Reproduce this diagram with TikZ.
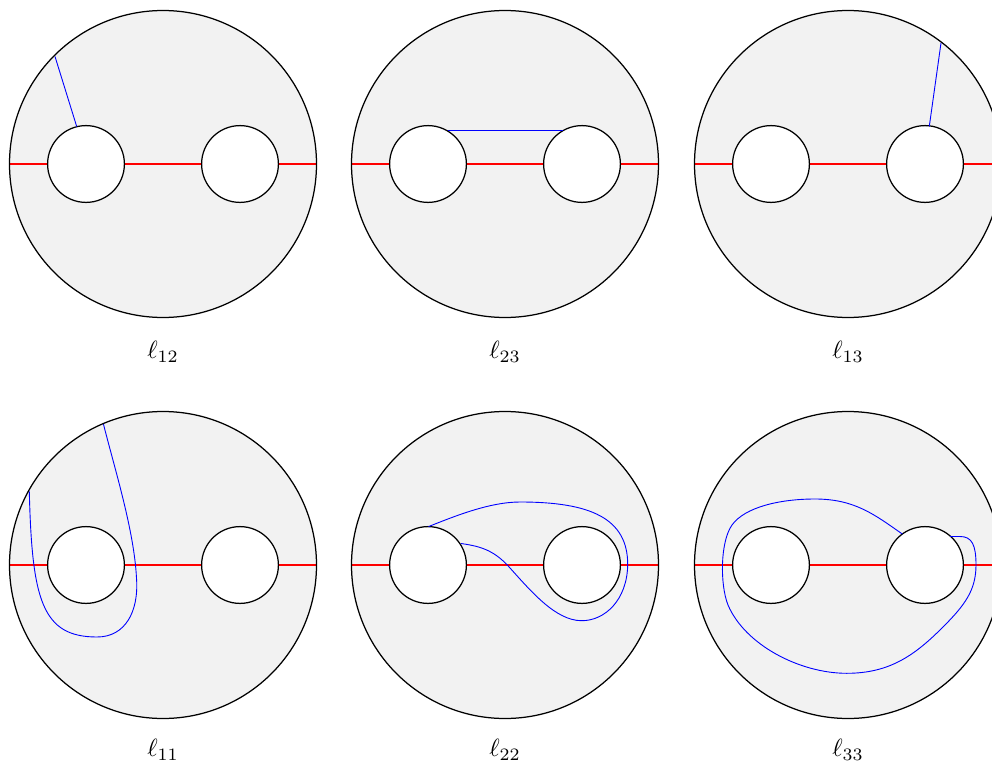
\documentclass[tikz,border=0pt]{standalone}
\usetikzlibrary{calc}
\definecolor{diskgray}{gray}{0.95}
\tikzset{
  diskfill/.style={fill=diskgray},
  diskline/.style={draw=black, line width=1.25bp},
  holeshape/.style={draw=black, fill=white, line width=1.25bp},
  cutline/.style={red, line width=1.3bp},
  bluecurve/.style={blue, line width=0.9bp},
  lab/.style={scale=2.5, inner sep=0pt}
}
\newcommand{\mydisk}[2]{%
  \fill[diskfill] (#1,#2) circle[radius=153.5];
  \draw[cutline] (#1-153.5,#2) -- (#1+153.5,#2);
  \draw[holeshape] (#1-77,#2) circle[radius=38.4];
  \draw[holeshape] (#1+77,#2) circle[radius=38.4];
}
\begin{document}
\begin{tikzpicture}[x=1bp,y=-1bp]
\useasboundingbox (0,0) rectangle (992,764);
\clip (0,0) rectangle (992,764);
% top row
\mydisk{163}{164}
\mydisk{505}{164}
\mydisk{848}{164}
% bottom row
\mydisk{163}{565}
\mydisk{505}{565}
\mydisk{848}{565}
% blue curves
\draw[bluecurve] (55,56.5) -- (76.7,126.5);
\draw[bluecurve] (447.5,130.5) -- (563,130.5);
\draw[bluecurve] (941,43) -- (929.3,126.3);
% l11
\draw[bluecurve] (29.3,491.5) .. controls (32,600) and (42,637) .. (97,637)
  .. controls (125,637) and (139,612) .. (136.5,578)
  .. controls (134,530) and (115,470) .. (103.3,423.5);
% l22
\draw[bluecurve] (428.5,526.6) .. controls (455,516) and (490,502) .. (520,502)
  .. controls (590,502) and (628,518) .. (627.7,565)
  .. controls (627,600) and (605,620.7) .. (581.7,620.7)
  .. controls (555,620.7) and (530,590) .. (507.3,565)
  .. controls (492,549) and (478,546) .. (461,543.5);
% l33
\draw[bluecurve] (902.3,534) .. controls (875,515) and (855,499) .. (815,499)
  .. controls (780,499) and (745,507) .. (732,525)
  .. controls (720,542) and (720,585) .. (728,605)
  .. controls (745,645) and (800,673.3) .. (846.7,673.3)
  .. controls (890,673.3) and (915,655) .. (943,627)
  .. controls (965,605) and (976,590) .. (976,565)
  .. controls (976,545) and (972,536.5) .. (960,536.5)
  -- (950,536.5);
% outlines
\foreach \cx/\cy in {163/164,505/164,848/164,163/565,505/565,848/565}{
  \draw[diskline] (\cx,\cy) circle[radius=153.5];
}
% labels
\node[lab] (l12) at (163,352) {$\ell_{12}$};
\node[lab] (l23) at (505,352) {$\ell_{23}$};
\node[lab] (l13) at (848,352) {$\ell_{13}$};
\node[lab] (l11) at (163,750) {$\ell_{11}$};
\node[lab] (l22) at (505,750) {$\ell_{22}$};
\node[lab] (l33) at (848,750) {$\ell_{33}$};
\end{tikzpicture}
\end{document}
